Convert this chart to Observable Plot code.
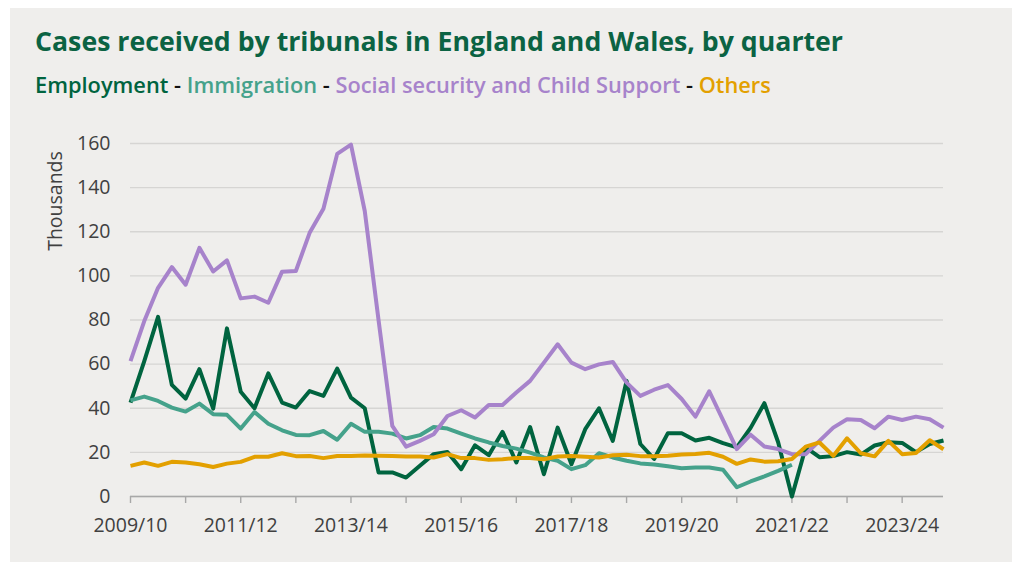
<!DOCTYPE html>
<html><head><meta charset="utf-8">
<script src="https://cdn.jsdelivr.net/npm/d3@7"></script>
<script src="https://cdn.jsdelivr.net/npm/@observablehq/plot@0.6"></script>
<style>
html,body{margin:0;padding:0;background:#fff;width:1012px;height:562px;overflow:hidden;}
#panel{position:absolute;left:10px;top:8px;width:1002px;height:554px;background:#efeeec;}
#title{position:absolute;left:35px;top:28px;font-family:"Open Sans",sans-serif;font-weight:700;font-size:26.7px;color:#0b6343;white-space:nowrap;line-height:1;}
#legend{position:absolute;left:35px;top:74px;font-family:"Open Sans",sans-serif;font-weight:600;font-size:21.8px;white-space:nowrap;line-height:1;color:#111;}
#ylabel{position:absolute;left:-45px;top:190px;width:200px;text-align:center;font-family:"Open Sans",sans-serif;font-size:19.5px;line-height:22px;color:#404040;transform:rotate(-90deg);transform-origin:center;}
#chart{position:absolute;left:0;top:110px;}
</style>
</head><body>
<div id="panel"></div>
<div id="title">Cases received by tribunals in England and Wales, by quarter</div>
<div id="legend"></div>
<div id="ylabel">Thousands</div>
<div id="chart"></div>
<script>
const seriesNames = ["Employment", "Immigration", "Social security and Child Support", "Others"];
const seriesColors = ["#00643f", "#45a28b", "#a783cb", "#e3a000"];

const employment = [42.6,61.4,81.4,50.6,44.4,57.7,39.8,76.2,47.5,40,
  55.8,42.6,40.3,47.8,45.6,58,44.8,40,10.9,10.9,
  8.6,13.9,19.2,20.2,12.4,23.2,18.7,29.3,15.4,31.5,
  10.1,31.2,14.6,30.5,40,25.2,52.4,23.8,17,28.7,
  28.7,25.4,26.6,24.2,22.3,31.1,42.3,24.6,0,22.3,
  17.8,18.3,20.1,19,23.1,24.6,24.3,20.1,23.8,25.4];
const immigration = [43.6,45.3,43.3,40.3,38.5,42.1,37.3,37,30.8,38.3,
  33,30,27.9,27.8,29.7,25.7,33,29.3,29.3,28.5,
  26.3,27.8,31.5,30.8,28.5,26.3,24.5,22.9,21.7,19.9,
  17.7,16.2,12.4,14.2,19.6,17.7,16.2,15,14.5,13.7,
  12.8,13.1,13.1,12.1,4.2,6.8,9.1,11.6,14.4,null,
  null,null,null,null,null,null,null,null,null,null];
const socialSecurity = [61.4,79.5,94.6,104,96,112.7,102,107,89.8,90.6,
  87.8,101.9,102.2,119.5,130.4,155.3,159.5,129.4,80,32,
  22.6,25.2,28.2,36.5,39.1,35.8,41.5,41.5,47.1,52.4,
  60.7,69,60.7,57.7,59.9,61,51.6,45.6,48.4,50.5,
  44.2,36.2,47.7,34.6,21.5,28,22.7,21.5,19.2,19.2,
  25.2,31.2,35,34.7,30.9,36.2,34.7,36.2,35,31.2];
const others = [13.9,15.4,13.9,15.7,15.4,14.6,13.4,14.9,15.7,18,
  18,19.6,18.3,18.4,17.4,18.4,18.4,18.6,18.5,18.4,
  18.1,18.1,17.7,19.2,17.4,17.4,16.6,16.9,17.4,17.4,
  16.9,18.1,18.4,18,17.7,18.7,18.9,18.3,18.2,18.5,
  19,19.3,19.8,18,14.8,16.8,15.8,16,17,22.6,
  24.5,18.4,26.4,19.6,18.2,25.2,19.2,19.7,25.5,21.4];

const xTickLabels = ["2009/10","2011/12","2013/14","2015/16","2017/18","2019/20","2021/22","2023/24"];
const yTicks = [0,20,40,60,80,100,120,140,160];

const allSeries = [employment, immigration, socialSecurity, others];
const rows = [];
allSeries.forEach((vals, s) => vals.forEach((v, i) => rows.push({series: seriesNames[s], q: i, value: v})));

// legend
const legend = document.getElementById("legend");
seriesNames.forEach((n, i) => {
  if (i > 0) { const d = document.createElement("span"); d.textContent = " - "; legend.appendChild(d); }
  const s = document.createElement("span"); s.textContent = n; s.style.color = seriesColors[i]; legend.appendChild(s);
});

const nQ = employment.length;
const chart = Plot.plot({
  width: 1012,
  height: 452,
  marginTop: 33,
  marginBottom: 66,
  marginLeft: 130,
  marginRight: 69,
  style: {fontFamily: "'Open Sans', sans-serif", fontSize: "19.5px", color: "#404040", background: "transparent", overflow: "visible"},
  x: {domain: [0, nQ - 1]},
  y: {domain: [0, 160]},
  color: {domain: seriesNames, range: seriesColors},
  marks: [
    Plot.gridY(yTicks, {stroke: "#d6d5d3", strokeOpacity: 1, strokeWidth: 1.4}),
    Plot.axisY(yTicks, {tickSize: 0, tickPadding: 20, label: null, tickFormat: d => String(d)}),
    Plot.axisX(d3.range(0, nQ, 4), {tickSize: 7, tickPadding: 15, stroke: "#a8a8a8", strokeWidth: 1.4, label: null,
      tickFormat: d => d % 8 === 0 ? xTickLabels[d / 8] : ""}),
    Plot.ruleY([0], {stroke: "#a8a8a8", strokeWidth: 1.6}),
    Plot.line(rows, {x: "q", y: "value", z: "series", stroke: "series", strokeWidth: 4, strokeLinejoin: "round", strokeLinecap: "butt"})
  ]
});
document.getElementById("chart").appendChild(chart);
</script>
</body></html>
